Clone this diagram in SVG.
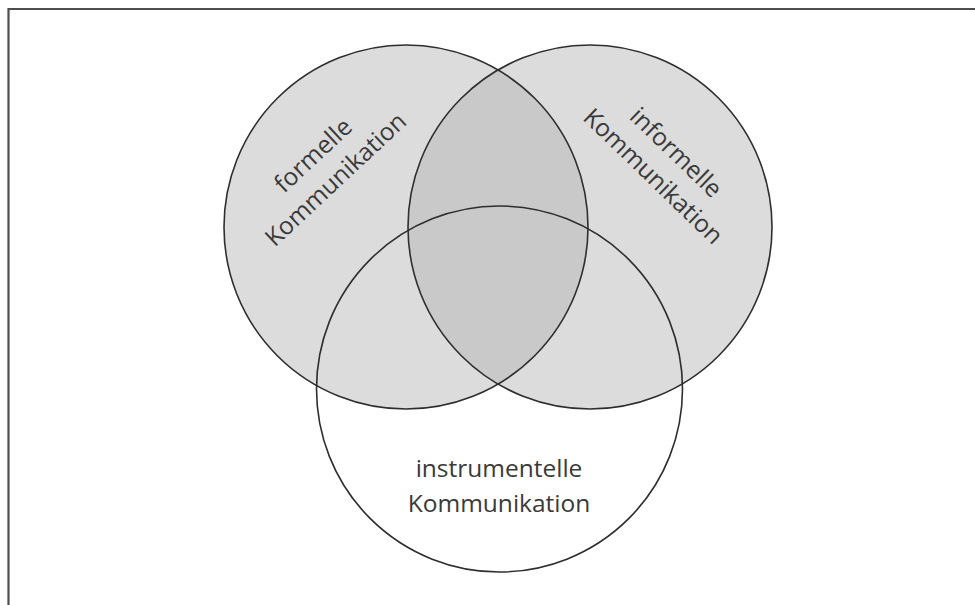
<svg xmlns="http://www.w3.org/2000/svg" width="975" height="605" viewBox="0 0 975 605">
<style>
.frame{fill:none;stroke:#4d4d4d;stroke-width:2.2}
.set{fill:#dcdcdc}
.ring{fill:none;stroke:#2e2e2e;stroke-width:1.6}
.lbl{font-family:"Open Sans","Noto Sans","DejaVu Sans",sans-serif;font-size:24.5px;fill:#3a3a3a;text-anchor:middle}
</style>
<defs>
<clipPath id="clipR"><circle cx="590" cy="227" r="182"/></clipPath>
</defs>
<rect width="975" height="605" fill="#ffffff"/>
<path class="frame" d="M8.5,605 V9 H975"/>
<g id="fills">
<circle class="set" cx="406" cy="227" r="182"/>
<circle class="set" cx="590" cy="227" r="182"/>
<circle cx="406" cy="227" r="182" fill="#c9c9c9" clip-path="url(#clipR)"/>
</g>
<g id="formelle">
<circle class="ring" cx="406" cy="227" r="182"/>
<g transform="translate(325,168) rotate(-43)">
<text class="lbl" x="0" y="-9">formelle</text>
<text class="lbl" x="0" y="24">Kommunikation</text>
</g>
</g>
<g id="informelle">
<circle class="ring" cx="590" cy="227" r="182"/>
<g transform="translate(664,165) rotate(44)">
<text class="lbl" x="0" y="-9">informelle</text>
<text class="lbl" x="0" y="24">Kommunikation</text>
</g>
</g>
<g id="instrumentelle">
<circle class="ring" cx="499.5" cy="389" r="183"/>
<text class="lbl" x="499" y="477">instrumentelle</text>
<text class="lbl" x="499" y="512">Kommunikation</text>
</g>
<g id="connectors"/>
</svg>
